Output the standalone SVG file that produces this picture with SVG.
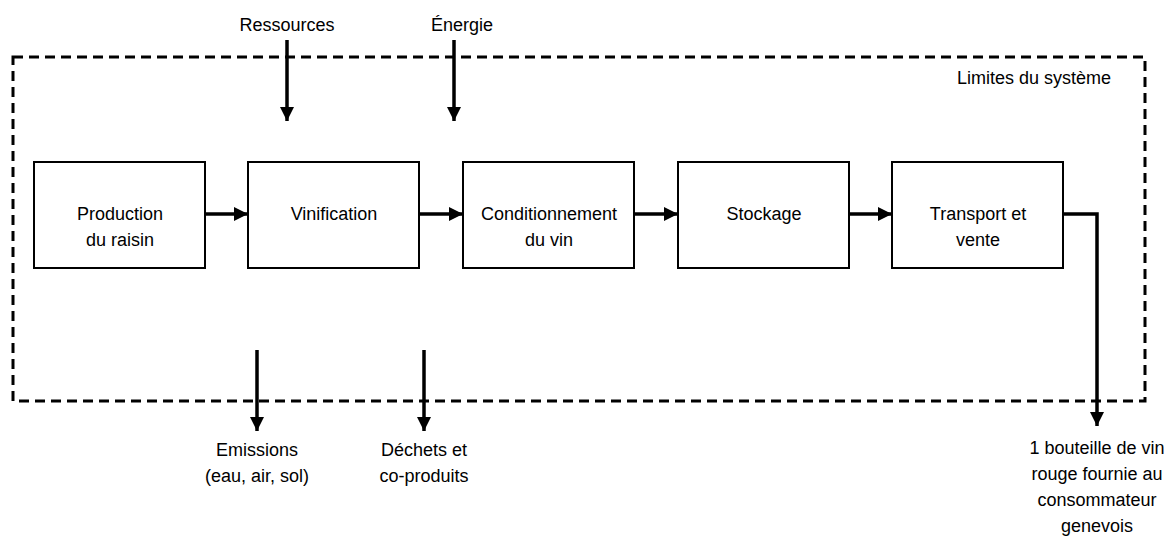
<svg xmlns="http://www.w3.org/2000/svg" width="1171" height="538" viewBox="0 0 1171 538">
<style>
text{font-family:"Liberation Sans",Arial,sans-serif;font-size:18px;fill:#000;text-anchor:middle}
.box{fill:#fff;stroke:#000;stroke-width:2}
.arr{fill:none;stroke:#000;stroke-width:3.5}
.bound{fill:none;stroke:#000;stroke-width:3;stroke-dasharray:10 6}
</style>
<defs>
<marker id="ah" viewBox="0 0 10 10" refX="10" refY="5" markerWidth="4" markerHeight="4" markerUnits="strokeWidth" orient="auto">
<path d="M0,0 L10,5 L0,10 z" fill="#000"/>
</marker>
</defs>
<g id="boundary">
<rect class="bound" x="13" y="57" width="1132" height="344"/>
<text x="1034" y="84">Limites du système</text>
</g>
<g id="n1"><rect class="box" x="34" y="162" width="171" height="106"/><text x="120" y="220">Production</text><text x="120" y="246">du raisin</text></g>
<g id="n2"><rect class="box" x="248" y="162" width="171" height="106"/><text x="334" y="220">Vinification</text></g>
<g id="n3"><rect class="box" x="463" y="162" width="171" height="106"/><text x="549" y="220">Conditionnement</text><text x="549" y="246">du vin</text></g>
<g id="n4"><rect class="box" x="678" y="162" width="171" height="106"/><text x="764" y="220">Stockage</text></g>
<g id="n5"><rect class="box" x="892" y="162" width="171" height="106"/><text x="978" y="220">Transport et</text><text x="978" y="246">vente</text></g>
<g id="labels">
<text x="287" y="31">Ressources</text>
<text x="462" y="31">Énergie</text>
<text x="257" y="456">Emissions</text>
<text x="257" y="482">(eau, air, sol)</text>
<text x="424" y="456">Déchets et</text>
<text x="424" y="482">co-produits</text>
<text x="1097" y="454">1 bouteille de vin</text>
<text x="1097" y="480">rouge fournie au</text>
<text x="1097" y="506">consommateur</text>
<text x="1097" y="532">genevois</text>
</g>
<g id="connectors">
<line class="arr" x1="205" y1="214" x2="248" y2="214" marker-end="url(#ah)"/>
<line class="arr" x1="419" y1="214" x2="463" y2="214" marker-end="url(#ah)"/>
<line class="arr" x1="634" y1="214" x2="678" y2="214" marker-end="url(#ah)"/>
<line class="arr" x1="849" y1="214" x2="892" y2="214" marker-end="url(#ah)"/>
<polyline class="arr" points="1063,214 1097,214 1097,426" marker-end="url(#ah)"/>
<line class="arr" x1="287" y1="40" x2="287" y2="121" marker-end="url(#ah)"/>
<line class="arr" x1="454" y1="40" x2="454" y2="121" marker-end="url(#ah)"/>
<line class="arr" x1="257" y1="350" x2="257" y2="431" marker-end="url(#ah)"/>
<line class="arr" x1="424" y1="350" x2="424" y2="431" marker-end="url(#ah)"/>
</g>
</svg>
